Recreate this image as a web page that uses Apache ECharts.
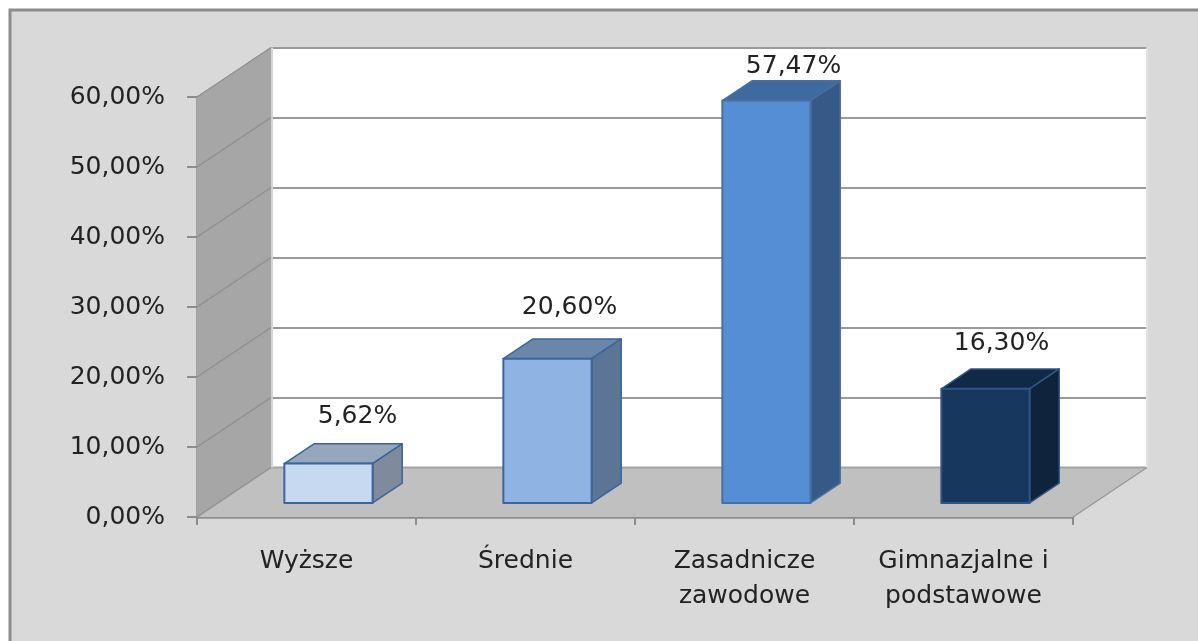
<!DOCTYPE html>
<html>
<head>
<meta charset="utf-8">
<style>html,body{margin:0;padding:0;background:#fff}#chart{width:1198px;height:641px}</style>
<script src="https://cdn.jsdelivr.net/npm/echarts@6/dist/echarts.min.js"></script>
</head>
<body>
<div id="chart"></div>
<script>
// ---- data ----
const categories = ['Wyższe', 'Średnie', 'Zasadnicze\nzawodowe', 'Gimnazjalne i\npodstawowe'];
const values = [5.62, 20.60, 57.47, 16.30];
const valueLabels = ['5,62%', '20,60%', '57,47%', '16,30%'];
const wallTicks = [0, 10, 20, 30, 40, 50, 60];

// ---- styling / projection ----
const FONT = '"DejaVu Sans", sans-serif';
const TEXT = '#222222';
const AXIS = '#8c8c8c';
const WALL_DX = 74, WALL_DY = -49.5;       // depth of the whole plot
const BAR_OFF = [0.297, 0.285];            // bar's front face, as a fraction of the depth
const BAR_DEPTH = 0.4;                     // bar's depth, as a fraction of the plot depth
const BAR_WIDTH = 0.403;                   // fraction of the band
const faces = [
  {front:'#c6d9f1', top:'#95a6bd', side:'#7f8b9c', stroke:'#3b659b'},
  {front:'#8eb4e3', top:'#6a87aa', side:'#5d7594', stroke:'#3b659b'},
  {front:'#558ed5', top:'#3f6a9f', side:'#355a88', stroke:'#4a6f9f'},
  {front:'#17375e', top:'#112946', side:'#0f233d', stroke:'#2f5587'}
];
// hand placement of the value labels: shift from the bar's front-top centre
const labelShift = [[29, -47], [22, -51], [27, -34], [16, -45]];

function poly(points, fill, stroke, lw) {
  return {type:'polygon', shape:{points}, style:{fill, stroke: stroke || null, lineWidth: lw || 0, lineJoin:'round'}};
}
function seg(a, b, stroke, lw) {
  return {type:'line', shape:{x1:a[0], y1:a[1], x2:b[0], y2:b[1]}, style:{stroke, lineWidth:lw}};
}

function renderShell(params, api) {
  const tick = api.value(0);
  const last = categories.length - 1;
  const p = api.coord([0, tick]);
  const band = api.size([1, 0])[0];
  const x0 = p[0] - band / 2, x1 = api.coord([last, 0])[0] + band / 2;
  const y = p[1];
  const kids = [];
  if (tick === 0) {
    const top = api.coord([0, wallTicks[wallTicks.length - 1]])[1];
    // side wall and floor
    kids.push(poly([[x0, y], [x0 + WALL_DX, y + WALL_DY], [x0 + WALL_DX, top + WALL_DY], [x0, top]], '#a6a6a6'));
    kids.push(poly([[x0, y], [x1, y], [x1 + WALL_DX, y + WALL_DY], [x0 + WALL_DX, y + WALL_DY]], '#c0c0c0'));
    kids.push(seg([x0 + WALL_DX, y + WALL_DY], [x1 + WALL_DX, y + WALL_DY], '#a3a3a3', 2));
    kids.push(seg([x1, y], [x1 + WALL_DX, y + WALL_DY], '#9a9a9a', 1.5));
    kids.push(seg([x0 + WALL_DX + 1, top + WALL_DY], [x0 + WALL_DX + 1, y + WALL_DY], '#d4d4d4', 2));
    kids.push(seg([x1 + WALL_DX, top + WALL_DY], [x1 + WALL_DX, y + WALL_DY], '#e2e2e2', 2));
  }
  kids.push(seg([x0, y], [x0 + WALL_DX, y + WALL_DY], '#909090', 1.5));
  return {type:'group', children:kids};
}

function renderBar(params, api) {
  const i = api.value(0), v = api.value(1);
  const f = faces[i];
  const band = api.size([1, 0])[0];
  const w = band * BAR_WIDTH;
  const ox = WALL_DX * BAR_OFF[0], oy = WALL_DY * BAR_OFF[1];
  const dx = WALL_DX * BAR_DEPTH, dy = WALL_DY * BAR_DEPTH;
  const b = api.coord([i, 0]), t = api.coord([i, v]);
  const l = b[0] + ox - w / 2, r = l + w;
  const yb = b[1] + oy, yt = t[1] + oy;
  const kids = [
    poly([[l, yt], [r, yt], [r + dx, yt + dy], [l + dx, yt + dy]], f.top, f.stroke, 1.5),
    poly([[r, yt], [r + dx, yt + dy], [r + dx, yb + dy], [r, yb]], f.side, f.stroke, 1.5),
    poly([[l, yb], [r, yb], [r, yt], [l, yt]], f.front, f.stroke, 2),
    {type:'text', x:(l + r) / 2 + labelShift[i][0], y:yt + labelShift[i][1],
      style:{text:valueLabels[i], fill:TEXT, font:'25px ' + FONT, textAlign:'center', textVerticalAlign:'middle'}}
  ];
  return {type:'group', children:kids};
}

const option = {
  animation:false,
  backgroundColor:'#ffffff',
  graphic:[{type:'rect', z:-100, silent:true, shape:{x:10, y:10, width:1300, height:800},
    style:{fill:'#d9d9d9', stroke:'#8c8c8c', lineWidth:3}}],
  grid:[
    {left:197, top:97, width:876, height:420, containLabel:false},
    {left:271, top:47.5, width:876, height:420, show:true, backgroundColor:'#ffffff', borderWidth:0}
  ],
  xAxis:[
    {type:'category', gridIndex:0, data:categories, boundaryGap:true,
     axisLine:{show:true, lineStyle:{color:AXIS, width:2.5}},
     axisTick:{show:true, length:8, lineStyle:{color:AXIS, width:2}},
     axisLabel:{interval:0, color:TEXT, fontFamily:'"DejaVu Sans", sans-serif', fontSize:25, lineHeight:35, margin:27}},
    {type:'category', gridIndex:1, data:categories, show:false}
  ],
  yAxis:[
    {type:'value', gridIndex:0, min:0, max:60, interval:10,
     axisLine:{show:true, lineStyle:{color:AXIS, width:2.5}},
     axisTick:{show:true, length:10, lineStyle:{color:AXIS, width:2}},
     splitLine:{show:false},
     axisLabel:{color:TEXT, fontFamily:'"DejaVu Sans", sans-serif', fontSize:25, margin:32,
       formatter:v => v.toFixed(2).replace('.', ',') + '%'}},
    {type:'value', gridIndex:1, min:0, max:60, interval:10,
     axisLine:{show:false}, axisTick:{show:false}, axisLabel:{show:false},
     splitLine:{show:true, lineStyle:{color:'#9a9a9a', width:2}}}
  ],
  series:[
    {type:'custom', xAxisIndex:0, yAxisIndex:0, z:1, silent:true, clip:false,
     data:wallTicks.map(t => [t]), encode:{y:0}, renderItem:renderShell},
    {type:'custom', name:'Wykształcenie', xAxisIndex:0, yAxisIndex:0, z:3, silent:true, clip:false,
     data:values.map((v, i) => [i, v]), encode:{x:0, y:1}, renderItem:renderBar}
  ]
};
const chart = echarts.init(document.getElementById('chart'), null, {renderer:'canvas'});
chart.setOption(option);
</script>
</body>
</html>
